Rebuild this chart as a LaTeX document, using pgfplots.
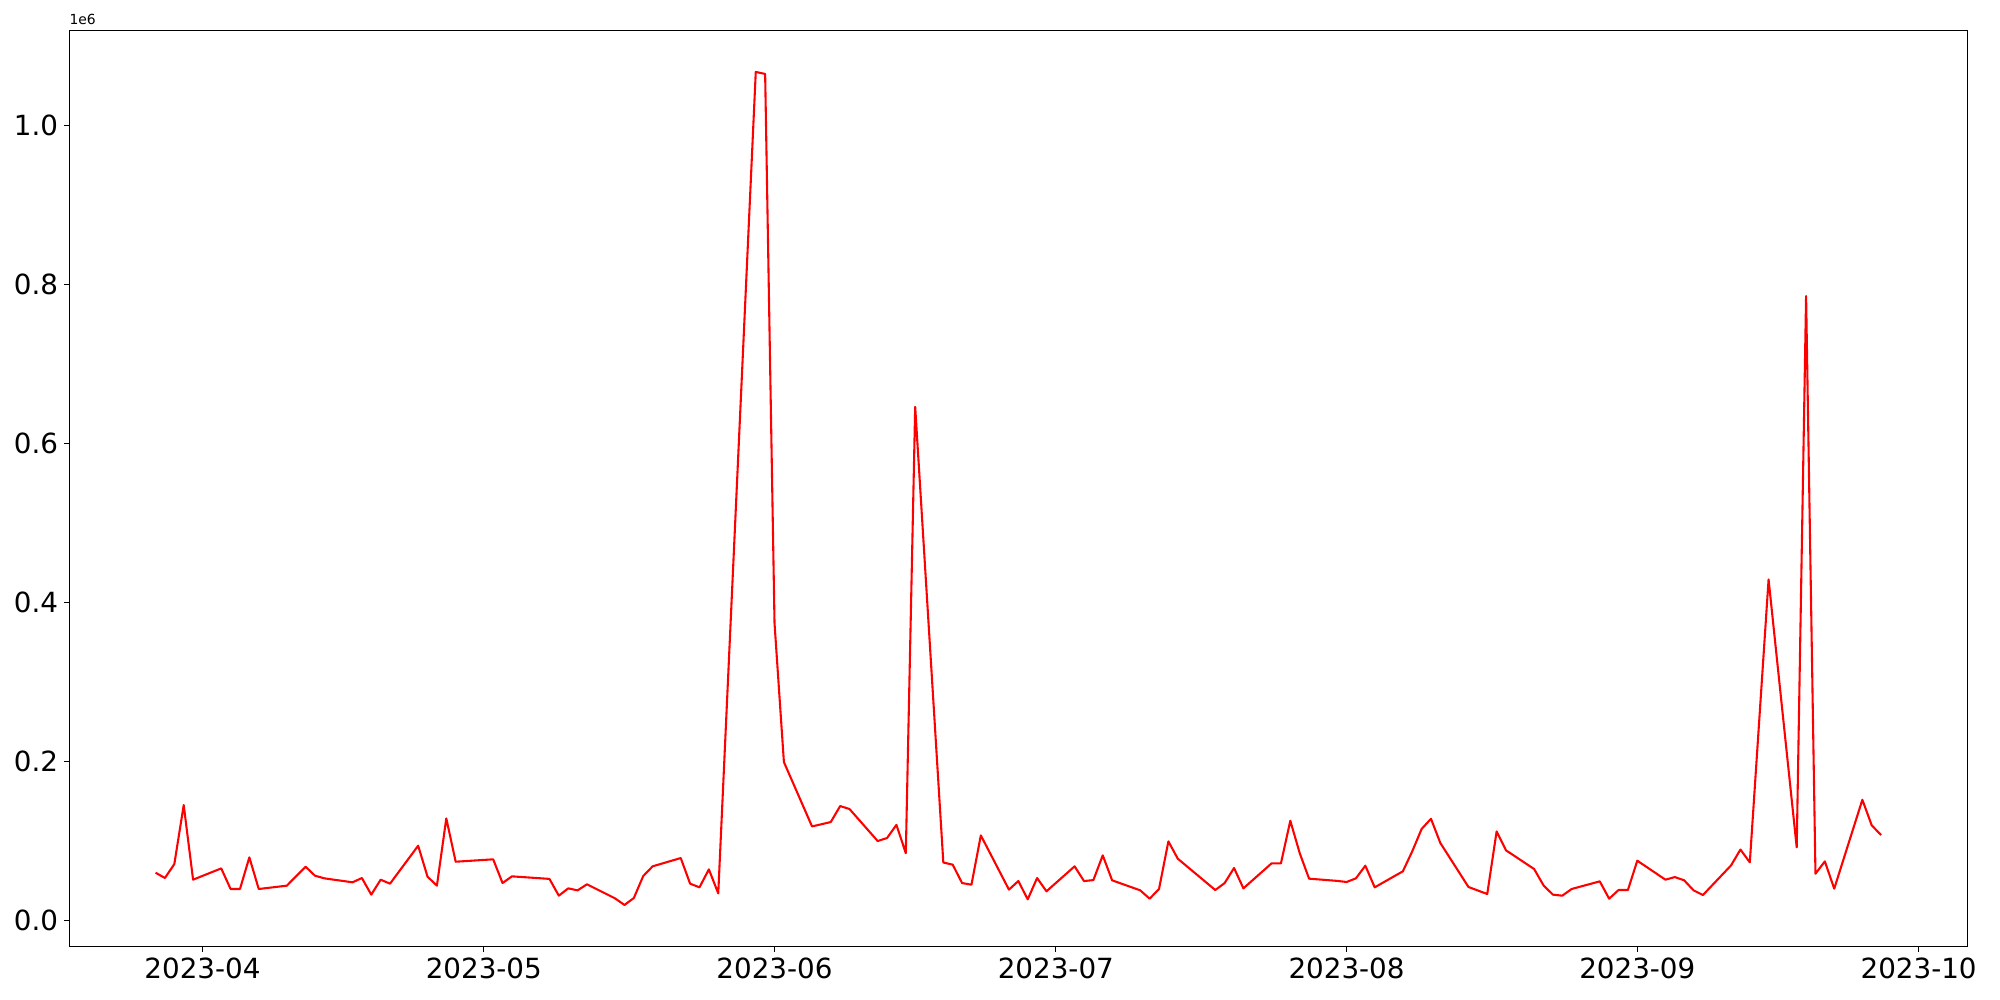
\documentclass[border=0pt]{standalone}
\usepackage{pgfplots}
\pgfplotsset{compat=1.18}
\usepackage{pgfplotstable}
\usepackage{fontspec}
\setmainfont{DejaVu Sans}
\pgfplotstableread{
d v
-5 0.0603
-4 0.0536
-3 0.0712
-2 0.1453
-1 0.0515
2 0.0657
3 0.0398
4 0.0398
5 0.0796
6 0.0398
9 0.0440
10 0.0561
11 0.0678
12 0.0565
13 0.0532
16 0.0482
17 0.0536
18 0.0327
19 0.0515
20 0.0465
23 0.0942
24 0.0553
25 0.0440
26 0.1286
27 0.0741
31 0.0771
32 0.0473
33 0.0557
37 0.0525
38 0.0314
39 0.0406
40 0.0381
41 0.0457
44 0.0280
45 0.0197
46 0.0285
47 0.0561
48 0.0683
51 0.0787
52 0.0465
53 0.0419
54 0.0645
55 0.0343
59 1.0670
60 1.0645
61 0.3740
62 0.1994
65 0.1185
66 0.1212
67 0.1240
68 0.1441
69 0.1403
72 0.1001
73 0.1039
74 0.1204
75 0.0848
76 0.6460
79 0.0731
80 0.0704
81 0.0473
82 0.0452
83 0.1072
86 0.0390
87 0.0498
88 0.0268
89 0.0536
90 0.0369
93 0.0683
94 0.0498
95 0.0510
96 0.0821
97 0.0507
100 0.0381
101 0.0276
102 0.0398
103 0.0997
104 0.0779
108 0.0385
109 0.0473
110 0.0662
111 0.0406
114 0.0720
115 0.0720
116 0.1256
117 0.0850
118 0.0528
121 0.0500
122 0.0486
123 0.0532
124 0.0691
125 0.0419
128 0.0620
129 0.0871
130 0.1152
131 0.1281
132 0.0976
135 0.0423
137 0.0335
138 0.1122
139 0.0884
142 0.0649
143 0.0444
144 0.0327
145 0.0314
146 0.0398
149 0.0494
150 0.0276
151 0.0385
152 0.0385
153 0.0754
156 0.0515
157 0.0548
158 0.0507
159 0.0381
160 0.0322
163 0.0695
164 0.0894
165 0.0733
167 0.4290
170 0.0921
171 0.7853
172 0.0590
173 0.0745
174 0.0402
177 0.1520
178 0.1198
179 0.1076
}\datatable
\begin{document}
\begin{tikzpicture}
\useasboundingbox (-49.9pt,-38.4pt) rectangle (1390.1pt,681.6pt);
\begin{axis}[
  name=ax,
  at={(0pt,0pt)}, anchor=south west,
  width=1366.6pt, height=659.8pt,
  scale only axis,
  xmin=-14.2, xmax=188.2,
  ymin=-0.0327, ymax=1.1194,
  xtick={0,30,61,91,122,153,183},
  xticklabels={2023-04,2023-05,2023-06,2023-07,2023-08,2023-09,2023-10},
  ytick={0,0.2,0.4,0.6,0.8,1.0},
  yticklabels={0.0,0.2,0.4,0.6,0.8,1.0},
  tick align=outside,
  major tick length=3.5pt,
  tick style={black, line width=0.8pt},
  axis line style={line width=0.8pt},
  xtick pos=bottom, ytick pos=left,
  ticklabel style={font=\fontsize{20}{24}\selectfont},
  /pgf/number format/assume math mode=true,
  xticklabel style={yshift=-1pt},
  yticklabel style={xshift=-1pt},
  clip=true,
]
\addplot[red, line width=1.5pt, line join=round] table[x=d, y=v] {\datatable};
\end{axis}
\node[anchor=south west, inner sep=0pt, font=\fontsize{10}{12}\selectfont] at ([yshift=4pt]ax.north west) {1e6};
\end{tikzpicture}
\end{document}
